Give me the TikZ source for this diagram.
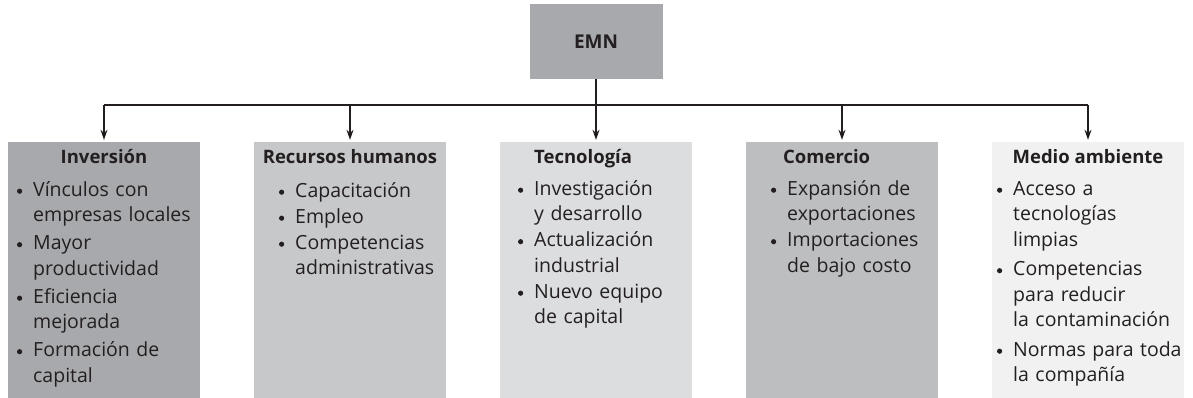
\documentclass[tikz,border=0pt]{standalone}
\usepackage{fontspec}
\setmainfont{Open Sans}
\usetikzlibrary{arrows.meta,calc}
\definecolor{ink}{HTML}{231F20}
\definecolor{cA}{HTML}{A7A9AC}
\definecolor{cB}{HTML}{C7C8CA}
\definecolor{cC}{HTML}{DCDDDF}
\definecolor{cD}{HTML}{BCBEC0}
\definecolor{cE}{HTML}{F1F1F2}
\setlength\parindent{0pt}
\newcommand\bul{\leavevmode\llap{\tikz[baseline=0pt]\fill[ink] (0pt,5pt) circle[radius=2.6pt];\hspace{11pt}}}
\begin{document}
\begin{tikzpicture}[x=1pt,y=-1pt,
  panel/.style={minimum width=192pt,minimum height=256pt,inner sep=0pt,draw=none},
  ttl/.style={font=\fontsize{18.5}{22}\selectfont\bfseries, text=ink, inner sep=0pt, anchor=base},
  lst/.style={font=\fontsize{19.5}{25.5}\selectfont, text=ink, inner sep=0pt, anchor=north west, text width=180pt, align=left},
  conn/.style={line width=1.1pt, draw=ink},
  arr/.style={conn, -{Stealth[length=10pt,width=7pt]}, shorten >=2pt}]
\useasboundingbox (0,0) rectangle (1193,398);

\node[fill=cA, minimum width=133pt, minimum height=75pt, inner sep=0pt,
      font=\fontsize{19}{22}\selectfont\bfseries, text=ink] (emn) at (596,41.5) {EMN};

\node[panel, fill=cA] (inv) at (104,270) {};
\node[panel, fill=cB] (rec) at (350,270) {};
\node[panel, fill=cC] (tec) at (596,270) {};
\node[panel, fill=cD] (com) at (842,270) {};
\node[panel, fill=cE] (med) at (1088,270) {};

% titles
\node[ttl] (tinv) at (104,164) {Inversión};
\node[ttl] (trec) at (350,164) {Recursos humanos};
\node[ttl, anchor=base west] (ttec) at (534,164) {Tecnología};
\node[ttl, anchor=base west] (tcom) at (783,164) {Comercio};
\node[ttl] (tmed) at (1088,164) {Medio ambiente};

% lists
\node[lst] (linv) at (33,178.15) {\setlength\parskip{2.5pt}%
\strut\bul Vínculos con\\empresas locales\par
\bul Mayor\\productividad\par
\bul Eficiencia\\mejorada\par
\bul Formación de\\capital};
\node[lst] (lrec) at (295,179.15) {\setlength\parskip{0.5pt}%
\strut\bul Capacitación\par
\bul Empleo\par
\bul Competencias\\administrativas};
\node[lst] (ltec) at (534,177.15) {\setlength\parskip{0.5pt}%
\strut\bul Investigación\\y desarrollo\par
\bul Actualización\\industrial\par
\bul Nuevo equipo\\de capital};
\node[lst] (lcom) at (787,177.15) {\setlength\parskip{0.5pt}%
\strut\bul Expansión de\\exportaciones\par
\bul Importaciones\\de bajo costo};
\node[lst] (lmed) at (1013,177.15) {\setlength\parskip{4pt}%
\strut\bul Acceso a\\tecnologías\\limpias\par
\bul Competencias\\para reducir\\la contaminación\par
\bul Normas para toda\\la compañía};

% connectors
\coordinate (barL) at (104,105);
\coordinate (barR) at (1088,105);
\coordinate (b2) at (rec.north |- barL);
\coordinate (b4) at (com.north |- barL);
\draw[conn] (barL) -- (barR);
\draw[arr] (emn.south) -- (tec.north);
\draw[arr] (barL) -- (inv.north);
\draw[arr] (b2) -- (rec.north);
\draw[arr] (b4) -- (com.north);
\draw[arr] (barR) -- (med.north);
\end{tikzpicture}
\end{document}
